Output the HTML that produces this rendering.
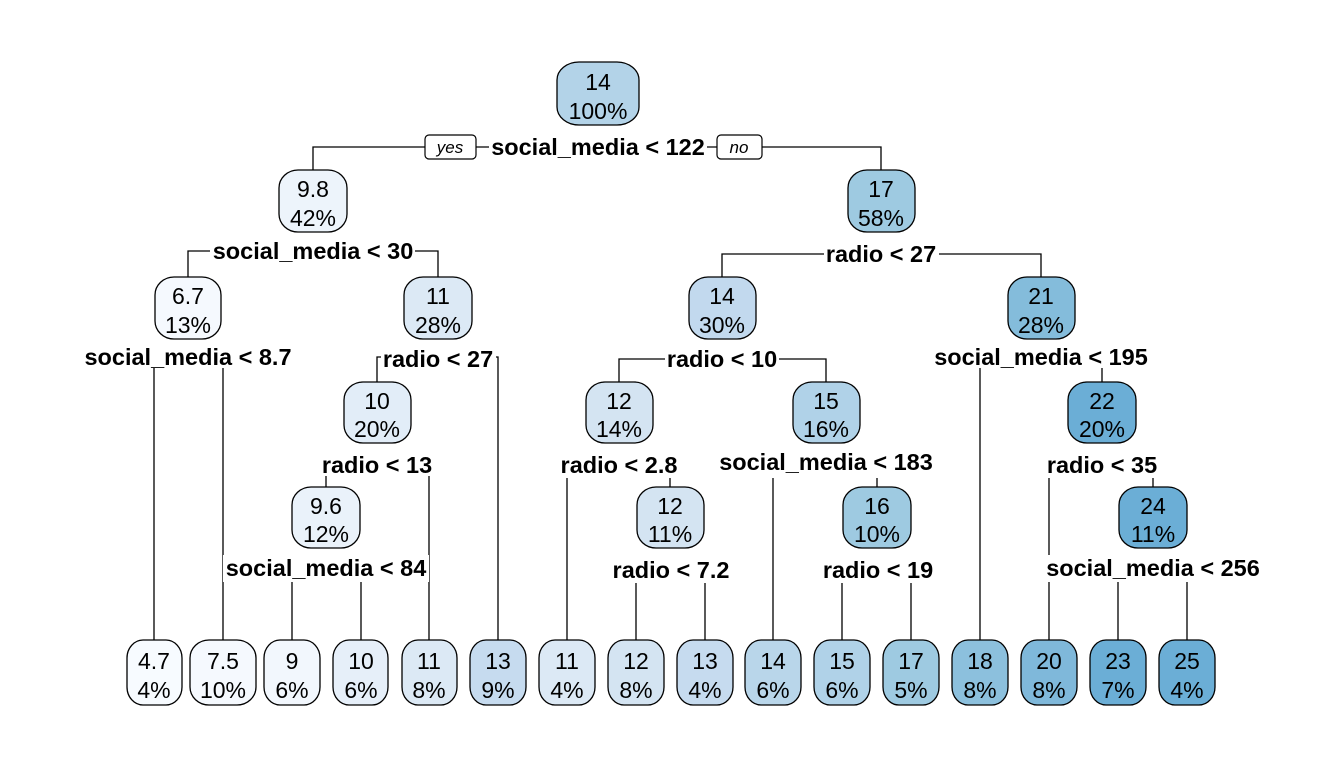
<!DOCTYPE html>
<html><head><meta charset="utf-8"><style>
html,body{margin:0;padding:0;background:#fff}
svg{display:block}
text{font-family:"Liberation Sans",Arial,sans-serif}
.n{stroke:#000;stroke-width:1.3}
.v{font-size:23px;text-anchor:middle}
.l{font-size:23.5px;font-weight:bold;text-anchor:middle}
.e{stroke:#000;stroke-width:1.3;fill:none}
</style></head><body>
<svg width="1344" height="768" viewBox="0 0 1344 768" xmlns="http://www.w3.org/2000/svg">
<rect width="1344" height="768" fill="#fff"/>
<g class="e">
<path d="M313,170V147H881V170"/>
<path d="M188,277V251H438V277"/>
<path d="M722,277V254H1041V277"/>
<path d="M154,640V357H223V640"/>
<path d="M377,382V357H498V640"/>
<path d="M619,382V359H826V382"/>
<path d="M980,640V357H1102V382"/>
<path d="M326,487V465H429V640"/>
<path d="M567,640V465H670V487"/>
<path d="M773,640V462H877V487"/>
<path d="M1049,640V465H1153V487"/>
<path d="M292,640V568H361V640"/>
<path d="M636,640V570H705V640"/>
<path d="M842,640V570H911V640"/>
<path d="M1118,640V568H1187V640"/>
</g>
<g fill="#fff">
<rect x="489" y="133" width="218" height="28"/>
<rect x="210" y="238" width="205" height="27"/>
<rect x="824" y="241" width="115" height="27"/>
<rect x="82" y="344" width="213" height="24"/>
<rect x="381" y="346" width="115" height="24"/>
<rect x="665" y="346" width="114" height="26"/>
<rect x="932" y="344" width="219" height="24"/>
<rect x="320" y="452" width="115" height="24"/>
<rect x="558" y="452" width="122" height="26"/>
<rect x="716" y="449" width="219" height="29"/>
<rect x="1045" y="452" width="114" height="26"/>
<rect x="223" y="555" width="206" height="27"/>
<rect x="610" y="557" width="122" height="26"/>
<rect x="821" y="557" width="114" height="26"/>
<rect x="1044" y="555" width="218" height="27"/>
</g>
<rect x="425" y="135" width="51" height="24" rx="4" fill="#fff" stroke="#000" stroke-width="1.2"/>
<text x="450" y="153" font-size="17" font-style="italic" text-anchor="middle">yes</text>
<rect x="717" y="135" width="45" height="24" rx="4" fill="#fff" stroke="#000" stroke-width="1.2"/>
<text x="739" y="153" font-size="17" font-style="italic" text-anchor="middle">no</text>
<g class="l">
<text x="598" y="155">social_media &lt; 122</text>
<text x="313" y="259">social_media &lt; 30</text>
<text x="881" y="262">radio &lt; 27</text>
<text x="188" y="365">social_media &lt; 8.7</text>
<text x="438" y="367">radio &lt; 27</text>
<text x="722" y="367">radio &lt; 10</text>
<text x="1041" y="365">social_media &lt; 195</text>
<text x="377" y="473">radio &lt; 13</text>
<text x="619" y="473">radio &lt; 2.8</text>
<text x="826" y="470">social_media &lt; 183</text>
<text x="1102" y="473">radio &lt; 35</text>
<text x="326" y="576">social_media &lt; 84</text>
<text x="671" y="578">radio &lt; 7.2</text>
<text x="878" y="578">radio &lt; 19</text>
<text x="1153" y="576">social_media &lt; 256</text>
</g>
<g class="n">
<rect x="557" y="62" width="82" height="63" rx="22" ry="18" fill="#b3d3e8"/>
<rect x="279" y="170" width="68" height="62" rx="19" ry="18" fill="#edf4fb"/>
<rect x="848" y="170" width="67" height="62" rx="19" ry="18" fill="#9ecae1"/>
<rect x="155" y="277" width="66" height="62" rx="19" ry="18" fill="#f5f9fe"/>
<rect x="404" y="277" width="68" height="62" rx="19" ry="18" fill="#dce9f5"/>
<rect x="689" y="277" width="67" height="62" rx="19" ry="18" fill="#c2d9ee"/>
<rect x="1008" y="277" width="67" height="62" rx="19" ry="18" fill="#84bcdb"/>
<rect x="344" y="382" width="67" height="61" rx="19" ry="18" fill="#e2edf8"/>
<rect x="586" y="382" width="67" height="61" rx="19" ry="18" fill="#d4e4f2"/>
<rect x="793" y="382" width="67" height="61" rx="19" ry="18" fill="#b0d2e8"/>
<rect x="1068" y="382" width="68" height="61" rx="19" ry="18" fill="#6baed6"/>
<rect x="292" y="487" width="68" height="61" rx="19" ry="18" fill="#eaf2fa"/>
<rect x="637" y="487" width="67" height="61" rx="19" ry="18" fill="#d4e4f2"/>
<rect x="843" y="487" width="68" height="61" rx="19" ry="18" fill="#9ecae1"/>
<rect x="1119" y="487" width="68" height="61" rx="19" ry="18" fill="#6baed6"/>
<rect x="127" y="640" width="55" height="65" rx="16" ry="18" fill="#f7fbff"/>
<rect x="190" y="640" width="66" height="65" rx="19" ry="18" fill="#f5f9fe"/>
<rect x="264" y="640" width="56" height="65" rx="16" ry="18" fill="#f2f7fd"/>
<rect x="333" y="640" width="55" height="65" rx="16" ry="18" fill="#e6eff9"/>
<rect x="402" y="640" width="55" height="65" rx="16" ry="18" fill="#dce9f5"/>
<rect x="470" y="640" width="56" height="65" rx="16" ry="18" fill="#c6dbef"/>
<rect x="539" y="640" width="56" height="65" rx="16" ry="18" fill="#dce9f5"/>
<rect x="608" y="640" width="56" height="65" rx="16" ry="18" fill="#d4e4f2"/>
<rect x="677" y="640" width="56" height="65" rx="16" ry="18" fill="#c6dbef"/>
<rect x="745" y="640" width="56" height="65" rx="16" ry="18" fill="#b9d6ea"/>
<rect x="814" y="640" width="56" height="65" rx="16" ry="18" fill="#b0d2e8"/>
<rect x="883" y="640" width="56" height="65" rx="16" ry="18" fill="#9ecae1"/>
<rect x="952" y="640" width="56" height="65" rx="16" ry="18" fill="#8cc0dd"/>
<rect x="1021" y="640" width="56" height="65" rx="16" ry="18" fill="#7fb8da"/>
<rect x="1090" y="640" width="56" height="65" rx="16" ry="18" fill="#6baed6"/>
<rect x="1159" y="640" width="56" height="65" rx="16" ry="18" fill="#6baed6"/>
</g>
<g class="v">
<text x="598" y="90">14</text><text x="598" y="119">100%</text>
<text x="313" y="197">9.8</text><text x="313" y="226">42%</text>
<text x="881" y="197">17</text><text x="881" y="226">58%</text>
<text x="188" y="304">6.7</text><text x="188" y="333">13%</text>
<text x="438" y="304">11</text><text x="438" y="333">28%</text>
<text x="722" y="304">14</text><text x="722" y="333">30%</text>
<text x="1041" y="304">21</text><text x="1041" y="333">28%</text>
<text x="377" y="409">10</text><text x="377" y="437">20%</text>
<text x="619" y="409">12</text><text x="619" y="437">14%</text>
<text x="826" y="409">15</text><text x="826" y="437">16%</text>
<text x="1102" y="409">22</text><text x="1102" y="437">20%</text>
<text x="326" y="514">9.6</text><text x="326" y="542">12%</text>
<text x="670" y="514">12</text><text x="670" y="542">11%</text>
<text x="877" y="514">16</text><text x="877" y="542">10%</text>
<text x="1153" y="514">24</text><text x="1153" y="542">11%</text>
<text x="154" y="669">4.7</text><text x="154" y="698">4%</text>
<text x="223" y="669">7.5</text><text x="223" y="698">10%</text>
<text x="292" y="669">9</text><text x="292" y="698">6%</text>
<text x="361" y="669">10</text><text x="361" y="698">6%</text>
<text x="429" y="669">11</text><text x="429" y="698">8%</text>
<text x="498" y="669">13</text><text x="498" y="698">9%</text>
<text x="567" y="669">11</text><text x="567" y="698">4%</text>
<text x="636" y="669">12</text><text x="636" y="698">8%</text>
<text x="705" y="669">13</text><text x="705" y="698">4%</text>
<text x="773" y="669">14</text><text x="773" y="698">6%</text>
<text x="842" y="669">15</text><text x="842" y="698">6%</text>
<text x="911" y="669">17</text><text x="911" y="698">5%</text>
<text x="980" y="669">18</text><text x="980" y="698">8%</text>
<text x="1049" y="669">20</text><text x="1049" y="698">8%</text>
<text x="1118" y="669">23</text><text x="1118" y="698">7%</text>
<text x="1187" y="669">25</text><text x="1187" y="698">4%</text>
</g>
</svg>
</body></html>
